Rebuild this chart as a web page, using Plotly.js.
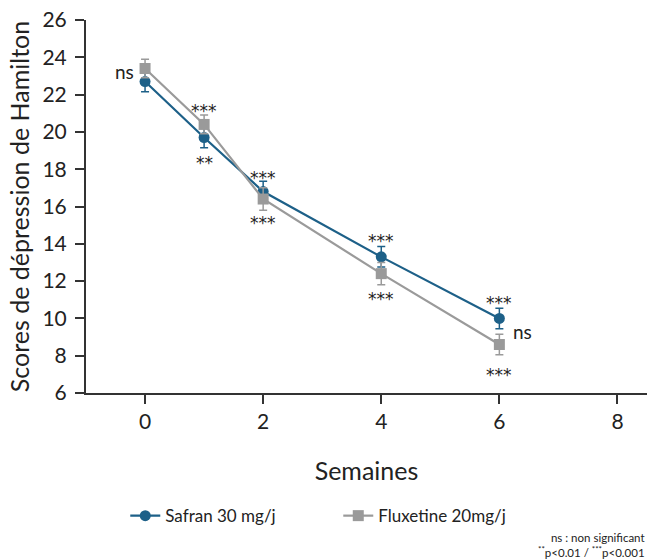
<!DOCTYPE html>
<html>
<head>
<meta charset="utf-8">
<script src="https://cdn.plot.ly/plotly-3.0.1.min.js"></script>
<style>html,body{margin:0;padding:0;background:#fff;}#chart{width:650px;height:559px;}</style>
</head>
<body>
<div id="chart"></div>
<script>
const weeks = [0, 1, 2, 4, 6];
const safran = [22.7, 19.7, 16.8, 13.3, 10.0];
const safranErr = [0.55, 0.55, 0.55, 0.55, 0.55];
const fluox = [23.4, 20.4, 16.4, 12.4, 8.6];
const fluoxErr = [0.5, 0.5, 0.6, 0.6, 0.55];
const seriesNames = ['Safran 30 mg/j', 'Fluxetine 20mg/j'];
const yTicks = [6, 8, 10, 12, 14, 16, 18, 20, 22, 24, 26];
const xTicks = [0, 2, 4, 6, 8];
// significance labels: [week index, series ('s' safran / 'f' fluox), label, dx px, dy px]
const sigLabels = [
  [0, 's', 'ns', -21, 10],
  [1, 'f', '***', 0, 16],
  [1, 's', '**', 0, -22],
  [2, 's', '***', 0, 17],
  [2, 'f', '***', 0, -21],
  [3, 's', '***', 0, 19],
  [3, 'f', '***', 0, -22],
  [4, 's', '***', 0, 18],
  [4, 's', 'ns', 23, -13],
  [4, 'f', '***', 0, -27]
];
const footnoteLines = ['ns : non significant', '**p<0.01 / ***p<0.001'];

const FONT = 'Lato, "Noto Sans", sans-serif';
const STARFONT = '"DejaVu Sans", sans-serif';
const BLUE = '#1d6088';
const GRAY = '#9a9a9a';
const TXT = '#222222';

const traces = [
  {x: weeks, y: safran, name: seriesNames[0], type: 'scatter', mode: 'lines+markers',
   line: {color: BLUE, width: 2.2}, marker: {symbol: 'circle', size: 11, color: BLUE},
   error_y: {type: 'data', array: safranErr, visible: true, color: BLUE, thickness: 1.5, width: 4}},
  {x: weeks, y: fluox, name: seriesNames[1], type: 'scatter', mode: 'lines+markers',
   line: {color: GRAY, width: 2.2}, marker: {symbol: 'square', size: 11, color: GRAY},
   error_y: {type: 'data', array: fluoxErr, visible: true, color: GRAY, thickness: 1.5, width: 4}}
];

const annotations = sigLabels.map(function(a) {
  const isStar = a[2].indexOf('*') >= 0;
  return {
    x: weeks[a[0]], y: (a[1] === 's' ? safran : fluox)[a[0]], xref: 'x', yref: 'y',
    text: a[2], showarrow: false,
    xshift: a[3], yshift: a[4] + (isStar ? -3 : 0),
    font: {family: isStar ? STARFONT : FONT, size: isStar ? 17 : 19, color: TXT}
  };
});
const fnText = footnoteLines[0] + '<br>' +
  footnoteLines[1].replace('***', '<sup>***</sup>').replace(/^\*\*/, '<sup>**</sup>');
annotations.push({
  xref: 'paper', yref: 'paper', x: 1.0, y: -0.365, xanchor: 'right', yanchor: 'top',
  text: fnText, showarrow: false, align: 'right', font: {family: FONT, size: 11.5, color: TXT}
});

const layout = {
  width: 650, height: 559,
  margin: {l: 86, r: 3, t: 20, b: 166},
  paper_bgcolor: '#fff', plot_bgcolor: '#fff',
  font: {family: FONT, color: TXT},
  showlegend: true,
  legend: {orientation: 'h', x: 0.07, xanchor: 'left', y: -0.33, yanchor: 'middle',
           font: {family: FONT, size: 17, color: TXT}, entrywidth: 168, entrywidthmode: 'pixels'},
  xaxis: {range: [-1, 8.5], tickvals: xTicks, ticktext: xTicks.map(String),
          showgrid: false, zeroline: false, showline: true, linecolor: '#333', linewidth: 2,
          ticks: 'outside', ticklen: 9, tickwidth: 2, tickcolor: '#333',
          tickfont: {family: FONT, size: 21, color: TXT},
          title: {text: 'Semaines', font: {family: FONT, size: 25, color: TXT}, standoff: 30}},
  yaxis: {range: [6, 26], tickvals: yTicks, ticktext: yTicks.map(String),
          showgrid: false, zeroline: false, showline: true, linecolor: '#333', linewidth: 2,
          ticks: 'outside', ticklen: 9, tickwidth: 2, tickcolor: '#333', ticklabelstandoff: 4,
          tickfont: {family: FONT, size: 21, color: TXT},
          title: {text: 'Scores de dépression de Hamilton', font: {family: FONT, size: 25, color: TXT}, standoff: 6}},
  annotations: annotations
};

Plotly.newPlot('chart', traces, layout, {displayModeBar: false, staticPlot: true});
</script>
</body>
</html>
